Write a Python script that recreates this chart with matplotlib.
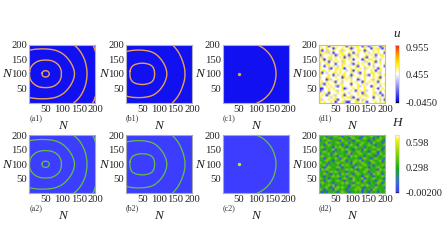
import numpy as np
import matplotlib
matplotlib.use("Agg")
import matplotlib.pyplot as plt
from matplotlib.colors import LinearSegmentedColormap, Normalize
from matplotlib.cm import ScalarMappable

plt.rcParams["font.family"] = ["Liberation Serif", "DejaVu Serif"]

W, H = 448, 252

# rings: upper half as (x, distance above N=100)
rings_a = [
    ([39, 41, 45, 50, 55, 59, 62], [0, 7, 10, 11, 10, 7, 0]),
    ([1, 3, 12, 28, 50, 72, 89, 97, 98], [0, 18, 33, 45, 48, 45, 32, 15, 0]),
    ([0, 20, 50, 80, 105, 125, 135, 138], [81, 85, 86, 82, 68, 42, 18, 0]),
    ([135, 150, 163, 172, 176], [100, 85, 62, 35, 0]),
    ([192, 196, 200], [100, 92, 78]),
]
rings_b = [
    ([12, 15, 25, 50, 75, 85, 88], [0, 20, 32, 38, 32, 20, 0]),
    ([0, 20, 50, 80, 100, 118, 126], [76, 81, 82, 76, 60, 32, 0]),
    ([141, 158, 170, 178, 179], [100, 78, 50, 20, 0]),
]
rings_c = [
    ([105, 125, 145, 158, 163], [100, 88, 65, 35, 0]),
]
dot_c = (50, 100)

ticks = [50, 100, 150, 200]

# noise panels, read by eye. 0 blue, 1 pale, 2 white, 3 yellow
noise_u = """
3223032232 2302323320 3102322033
2323220322 3223012322 3220233102
3021323223 1322322332 0322323223
3233120223 3223202322 3212323220
0322232012 3320323122 2323202332
3122332323 2021322322 3022312232
2302312322 3323202220 3233232122
3232023232 1322322322 1322302322
1223322022 3322102323 2202322323
3202323212 3223223022 3232122220
3222102332 3022323232 1322320322
2332322323 2212302322 3223202322
3021223323 2322322102 3223323122
3222320212 3322032232 3102322323
1223322322 0323122322 3222323022
3220312232 3232322012 3223123322
2323223022 1222323220 3232320222
3102322323 3222022323 2122232323
3223232102 3222322312 3220322122
0022323222 3012232322 3222320232
0122322312 3222320232 3122322323
3232022232 2321222320 3222312022
2320323122 3022322323 1322323202
3222212322 3233102232 2322022323
3122323302 2322323021 3222322120
3232232022 3100223323 2022232323
"""
# 0 blue, 1 dark green, 2 green, 3 yellow green
noise_h = """
2120212321 0212321210 2123210212
1232102123 2120232102 3212021321
0212321210 3212102321 2102123210
2123021232 1230212123 2120321202
1202321212 0212321032 1232102123
2321210323 2102123212 0212321210
2102123021 3232102120 3212123202
1232120212 2103212321 2102320212
0212302321 2123021232 1232120321
2321212103 2120323212 0212102123
1202321320 2321212102 3210232120
2123210212 3202123230 2123212302
3212021232 1212032123 2102321212
1230212120 3232120212 3212021232
2102321232 0212103232 1202123210
0323212102 1232321021 2321210323
2120232321 2102123212 3202123212
1232102120 3232102321 2120323202
2102123232 1202321210 2321021232
3212021210 2321032123 0212321210
1202321232 1021232120 3212102321
2321210212 3232102321 2102123202
0212323021 2120232123 2321202123
2123102232 3210212321 0212132120
3202120321 2102123230 2120321212
1010212102 3210112120 2102120212
"""

u_grid = np.array([[int(c) for c in r.replace(" ", "")] for r in noise_u.strip().split("\n")])
h_grid = np.array([[int(c) for c in r.replace(" ", "")] for r in noise_h.strip().split("\n")])
u_levels = np.array([0.05, 0.36, 0.48, 0.63])
h_levels = np.array([0.02, 0.29, 0.35, 0.47])

u_cmap = LinearSegmentedColormap.from_list("u", [(0, "#00000a"), (0.008, "#0000e6"), (0.25, "#7f7ff2"),
                                                 (0.5, "#ffffff"), (0.68, "#ffee00"), (0.85, "#ff9000"), (1, "#e8201a")])
h_cmap = LinearSegmentedColormap.from_list("h", [(0, "#000000"), (0.015, "#3c3cf8"), (0.2, "#3a70d0"), (0.42, "#18a818"),
                                                 (0.7, "#90d410"), (0.92, "#f4f020"), (1, "#fffff0")])
u_norm = Normalize(-0.045, 1.0)
h_norm = Normalize(-0.002, 0.69)


def box(x0, y0, x1, y1):
    return [x0 / W, 1 - y1 / H, (x1 - x0) / W, (y1 - y0) / H]


def smooth(xs, ys, closed, n=3):
    # corner cutting, so the read points give a round curve
    p = np.column_stack([xs, ys]).astype(float)
    for _ in range(n):
        if closed:
            q = np.roll(p, -1, axis=0)
            out = np.empty((len(p) * 2, 2))
            out[0::2] = 0.75 * p + 0.25 * q
            out[1::2] = 0.25 * p + 0.75 * q
            p = out
        else:
            a, b = p[:-1], p[1:]
            mid = np.empty((len(a) * 2, 2))
            mid[0::2] = 0.75 * a + 0.25 * b
            mid[1::2] = 0.25 * a + 0.75 * b
            p = np.vstack([p[:1], mid, p[-1:]])
    if closed:
        p = np.vstack([p, p[:1]])
    return p[:, 0], p[:, 1]


fig = plt.figure(figsize=(W / 100, H / 100), dpi=100)

lefts = [29.3, 126, 222.7, 319]
tops = [(44.7, 102.7), (135.3, 193)]
tags = [["(a1)", "(b1)", "(c1)", "(d1)"], ["(a2)", "(b2)", "(c2)", "(d2)"]]
bgs = ["#1010f0", "#3d3dff"]
ring_colors = ["#e8a058", "#66c040"]
dot_colors = ["#f0a050", "#d0e040"]
spine_colors = ["#b0b0c0", "#a8a8b0"]


def setup(ax, row, col):
    ax.set_xlim(1, 200)
    ax.set_ylim(1, 200)
    ax.set_xticks(ticks)
    ax.set_yticks(ticks)
    ax.tick_params(length=0, labelsize=7.7, pad=1.5, labelcolor="#222222")
    for s in ax.spines.values():
        s.set_color(spine_colors[row])
        s.set_linewidth(0.8)
    y1 = tops[row][1]
    x0 = lefts[col]
    fig.text((x0 + 0) / W, 1 - (y1 + 15.5) / H, tags[row][col], fontsize=5.9, color="#333333", va="center")
    fig.text((x0 + 33) / W, 1 - (y1 + 23) / H, "N", fontsize=9.5, style="italic", ha="center", va="center", color="#222222")
    fig.text((x0 - 22.8) / W, 1 - ((tops[row][0] + y1) / 2 + 0.5) / H, "N", fontsize=9.5, style="italic",
             ha="center", va="center", color="#222222")


for row in range(2):
    y0, y1 = tops[row]
    for col, rings in enumerate([rings_a, rings_b, rings_c]):
        ax = fig.add_axes(box(lefts[col], y0, lefts[col] + 66, y1))
        ax.set_facecolor(bgs[row])
        for xs, ds in rings:
            closed = ds[0] == 0 and ds[-1] == 0
            if ds[-1] == 0:
                px = xs + xs[-2::-1]
                py = [100 + d for d in ds] + [100 - d for d in ds[-2::-1]]
                if closed:
                    px, py = px[:-1], py[:-1]
                sx, sy = smooth(px, py, closed)
                ax.plot(sx, sy, color=ring_colors[row], lw=1.0 if row == 0 else 0.9)
            else:
                for sign in (1, -1):
                    sx, sy = smooth(xs, [100 + sign * d for d in ds], False)
                    ax.plot(sx, sy, color=ring_colors[row], lw=1.0 if row == 0 else 0.9)
        if col == 2:
            ax.plot([dot_c[0]], [dot_c[1]], "o", ms=2.4, color=dot_colors[row], mew=0)
        setup(ax, row, col)

    ax = fig.add_axes(box(lefts[3], y0, lefts[3] + 66, y1))
    if row == 0:
        ax.imshow(u_levels[u_grid], cmap=u_cmap, norm=u_norm, extent=[1, 200, 1, 200], aspect="auto",
                  interpolation="bilinear")
    else:
        ax.imshow(h_levels[h_grid], cmap=h_cmap, norm=h_norm, extent=[1, 200, 1, 200], aspect="auto",
                  interpolation="bilinear")
    setup(ax, row, 3)
    if row == 0:
        for s in ax.spines.values():
            s.set_color("#c8c090")

# colorbars
cax = fig.add_axes(box(395, 45, 399, 102.5))
cb = fig.colorbar(ScalarMappable(norm=u_norm, cmap=u_cmap), cax=cax)
cb.set_ticks([0.955, 0.455, -0.045], labels=["0.955", "0.455", "-0.0450"])
cb2 = fig.add_axes(box(395, 135, 399, 193))
cb_h = fig.colorbar(ScalarMappable(norm=h_norm, cmap=h_cmap), cax=cb2)
cb_h.set_ticks([0.598, 0.298, -0.002], labels=["0.598", "0.298", "-0.00200"])
for c in [cb, cb_h]:
    c.ax.tick_params(length=0, labelsize=7.5, pad=4.5, labelcolor="#222222")
    c.outline.set_edgecolor("#d8d8d8")
    c.outline.set_linewidth(0.6)

fig.text(396.5 / W, 1 - 34 / H, "u", fontsize=9.5, style="italic", ha="center", va="center", color="#222222")
fig.text(397 / W, 1 - 123 / H, "H", fontsize=9.5, style="italic", ha="center", va="center", color="#222222")

fig.savefig("out.png", dpi=100)
